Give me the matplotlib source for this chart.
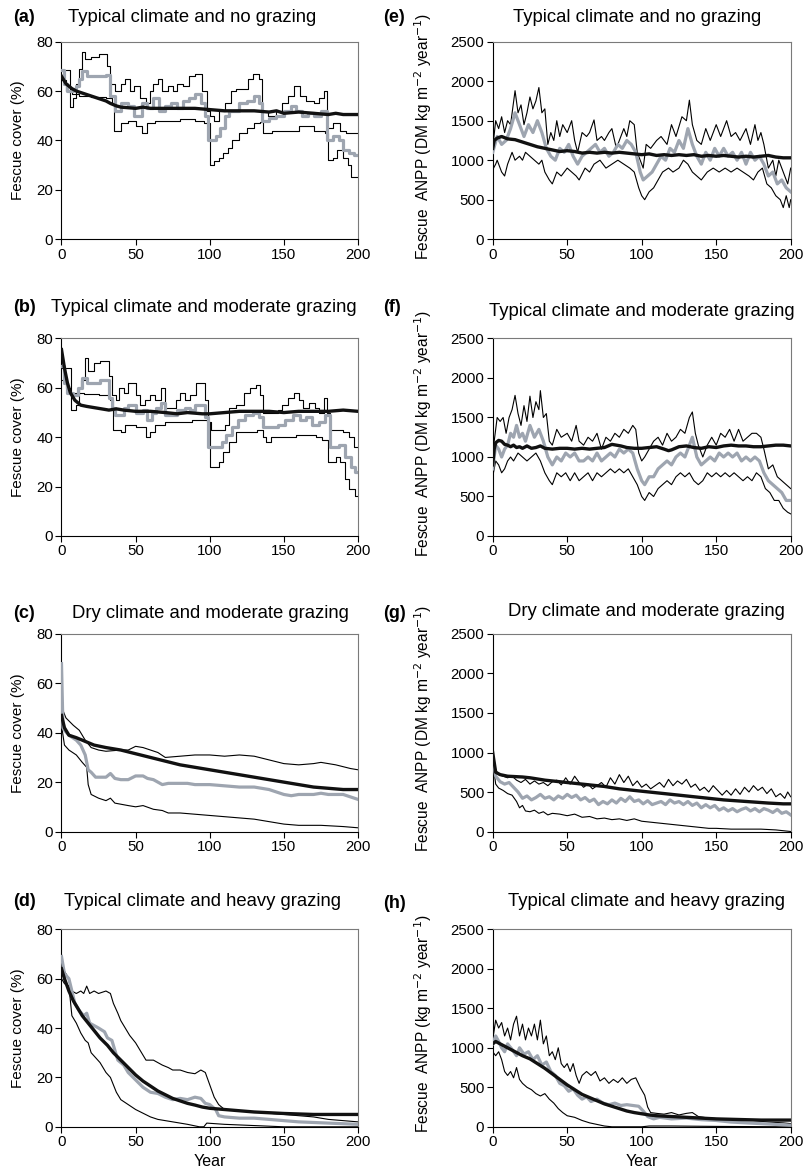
import numpy as np
import matplotlib
matplotlib.use("Agg")
import matplotlib.pyplot as plt

plt.rcParams["font.family"] = ["Liberation Sans", "DejaVu Sans"]

# --- Data: (year, value) pairs ---
# (a) Typical climate, no grazing - cover (%)
a_upper = [(0,68.5),(5.5,53.5),(8,57),(10,63),(12,69),(14,76),(16,73),(20,74),(25,75),(31,70),(33,63),(36,60),(40,63),(43,65),(46,60),(49,62),(53,57),(57,55),(60,60),(62,63),(65,65),(68,60),(72,62),(75,60),(78,63),(82,62),(86,66),(90,67),(95,60),(98,52),(100,50),(103,48),(106,52),(110,55),(114,60),(118,61),(126,65),(129,67),(133,65),(135,52),(139,50),(145,52),(149,55),(153,58),(157,62),(161,58),(165,56),(170,55),(174,57),(177,60),(179,45),(183,47),(188,44),(192,43),(200,43)]
a_lower = [(0,64.5),(3,60),(7,59),(12,58),(20,57.5),(30,57),(34,55),(35.5,44),(40,47),(45,48),(50,46),(54,43),(58,47),(63,48),(70,48),(80,48.5),(90,48),(96,47),(100,30),(103,31.5),(106,33),(109,35),(112,37),(115,40),(120,43),(125,45),(130,47),(134,47.5),(136,43),(142,44),(150,44),(160,46),(170,44),(178,43),(180,32),(183,33),(186,36),(190,33),(193,30),(195,25),(200,25)]
a_grey = [(0,68.5),(2,63),(4,60),(8,61),(10,62),(12,65),(14,68),(17,66),(30,66.5),(33,58),(36,52),(40,55),(45,54),(49,50),(54,55),(58,53),(62,57),(66,52),(70,54),(74,55),(78,53),(82,56),(86,57),(90,59),(94,55),(97,50),(99,40),(104,42),(107,45),(110,50),(113,52),(120,55),(125,56),(130,58),(133,55),(135,48),(140,49),(145,50),(150,52),(155,54),(158,52),(162,50),(166,51),(170,50),(175,52),(179,40),(183,42),(187,40),(190,36),(194,35),(197,34),(200,34)]
a_mean = [(0,66),(3,63),(7,61),(10,60),(15,59),(20,58),(25,57),(30,56),(33,55),(37,54),(40,53.5),(50,53),(55,53.5),(60,53),(70,53),(90,53),(100,52.5),(110,52),(120,52),(130,52),(140,51.5),(145,52),(150,51),(160,51.5),(170,51),(180,50.5),(185,51),(190,50.5),(200,50.5)]

# (b) Typical climate, moderate grazing - cover (%)
b_upper = [(0,68),(6.5,51),(10,53),(11.5,60),(13,63),(16,72),(18,67),(22,70),(26,71),(32,65),(34,57),(37,55),(39,60),(42,58),(45,62),(50,57),(53,53),(56,55),(60,57),(63,55),(67,60),(70,52),(77,55),(80,58),(83,55),(87,57),(91,62),(97,55),(99,46),(101,43),(110,45),(113,52),(118,53),(123,58),(127,60),(131,61),(134,57),(136,50),(146,51),(149,53),(153,56),(157,58),(160,55),(163,52),(167,54),(171,52),(174,50),(177,56),(179,50),(181,43),(190,42),(194,40),(197,36),(200,36)]
b_lower = [(0,63),(3,60),(6,58),(15,57.5),(25,57),(33,55),(35,43),(40,42),(43,45),(50,44),(57,40),(60,42),(63,45),(70,46),(88,47),(98,46),(100,28),(106,30),(109,34),(113,38),(118,42),(132,43),(136,40),(138,38),(141,40),(158,41),(172,40),(176,39),(180,30),(185,32),(188,30),(191,23),(194,19),(198,16),(200,16)]
b_grey = [(0,69),(2,62),(4,58),(8,57),(11,60),(14,64),(17,62),(26,63),(32,56),(34,52),(36,49),(42,52),(45,53),(50,50),(55,51),(58,47),(61,50),(64,52),(67,54),(70,49),(78,51),(83,52),(87,51),(90,53),(97,48),(99,36),(108,38),(111,41),(115,44),(119,47),(124,49),(129,50),(133,48),(136,44),(146,45),(151,47),(156,49),(161,47),(165,48),(169,45),(174,46),(178,49),(181,36),(187,37),(191,32),(195,28),(198,26),(200,26)]
b_mean = [(0,75.5),(2,68),(4,62),(6,58),(9,55),(13,53),(17,52.5),(22,52),(27,51.5),(32,51),(37,51.5),(42,51),(50,50.5),(60,50.5),(70,50),(78,49.5),(85,50),(95,49.5),(100,49.5),(110,50),(120,50.5),(130,50.5),(140,50.5),(150,50),(160,50.5),(170,50.5),(180,50.5),(190,51),(200,50.5)]

# (c) Dry climate, moderate grazing - cover (%)
c_upper = [(0,45),(1,49),(3,46),(8,43),(12,41),(16,37),(20,34),(25,33),(30,32.5),(40,33),(45,33),(50,34.5),(55,34),(60,33),(65,32),(70,30),(80,30.5),(90,31),(100,31),(110,30.5),(120,31),(130,30.5),(140,29),(150,27.5),(160,27),(170,27.5),(175,28),(185,27),(195,25.5),(200,25)]
c_lower = [(0,43),(2,35),(5,33),(10,31),(14,28),(17,26),(18,19),(20,15),(25,13.5),(30,12.5),(33,13.5),(36,11.5),(45,10.5),(50,10),(55,10.5),(62,9),(68,8.5),(72,7.5),(80,7.5),(90,7),(100,6.5),(110,6),(120,5.5),(130,5),(140,4),(150,3),(160,2.5),(175,2.5),(190,2),(200,1.5)]
c_grey = [(0,68),(1,42),(2,41),(5,39),(10,37),(13,35),(16,31),(18,25),(20,24),(23,22),(27,22),(30,22),(33,23.5),(36,21.5),(40,21),(45,21),(50,22.5),(55,22.5),(58,21.5),(62,21),(68,19),(72,19.5),(85,19.5),(90,19),(100,19),(110,18.5),(120,18),(130,18),(140,17),(150,15),(155,14.5),(160,15),(170,15),(175,15.5),(180,15),(190,15),(195,14),(200,13)]
c_mean = [(0,47),(2,42),(5,39),(10,38),(18,36),(22,35),(30,34),(40,33),(50,31.5),(60,30),(70,28.5),(80,27),(95,25.5),(100,25),(110,24),(120,23),(130,22),(140,21),(150,20),(160,19),(170,18),(180,17.5),(190,17),(200,17)]

# (d) Typical climate, heavy grazing - cover (%)
d_upper = [(0,64),(2,63),(4,61),(7,55),(10,54),(13,55),(15,54),(17,57),(19,54),(22,55),(25,54),(30,55),(33,54),(35,50),(38,46),(40,43),(43,40),(46,37),(50,34),(53,31),(57,27),(62,27),(65,26),(68,25),(72,24),(75,23),(80,23),(85,22),(90,21.5),(94,23),(97,22),(100,17),(103,12),(106,9),(110,7),(120,6.5),(130,6),(140,5.5),(150,5),(160,4.5),(170,4),(180,3),(190,2.5),(200,2)]
d_lower = [(0,60),(2,58),(5,57),(7,45),(10,42),(13,38),(16,35),(18,34),(20,30),(23,28),(26,26),(30,22),(33,20),(35,17),(37,14),(40,11),(45,9),(50,7),(55,5.5),(60,4),(65,3),(70,2.5),(75,2),(85,1),(93,0),(96,0),(98,1.5),(110,1),(130,0.5),(150,0),(200,0)]
d_grey = [(0,69),(2,62),(5,60),(7,55),(9,50),(12,47),(15,45),(17,46),(19,42),(22,41),(25,40),(29,38.5),(31,36),(34,35),(36,31),(38,27),(42,25),(45,22),(50,19),(55,16),(60,14),(65,13.5),(70,12),(75,11),(80,11.5),(85,11),(90,12),(94,11.5),(97,9.5),(100,9),(104,7),(106,4.5),(110,4),(120,3.5),(130,3.5),(140,3),(150,2.5),(160,2),(180,1.5),(200,1)]
d_mean = [(0,64),(2,60),(5,55),(8,51),(11,48),(14,45),(18,42),(22,39),(26,36),(31,33),(35,30),(40,27),(45,24),(50,21),(55,18.5),(60,16.5),(65,14.5),(70,13),(75,11.5),(80,10.5),(85,9.5),(90,8.8),(95,8),(100,7.5),(110,7),(120,6.5),(130,6),(140,5.7),(150,5.4),(160,5.2),(170,5),(180,5),(200,5)]

# (e) Typical climate, no grazing - ANPP
e_upper = [(0,1150),(2,1500),(4,1400),(6,1550),(8,1350),(10,1500),(12,1450),(15,1880),(17,1600),(19,1700),(21,1450),(23,1600),(25,1800),(27,1650),(29,1750),(31,1920),(33,1600),(35,1650),(37,1200),(39,1350),(41,1250),(43,1500),(45,1300),(47,1450),(50,1350),(53,1500),(55,1250),(57,1100),(60,1350),(63,1300),(65,1350),(68,1510),(70,1250),(73,1300),(75,1250),(78,1350),(80,1400),(83,1150),(86,1300),(88,1400),(90,1300),(92,1500),(95,1450),(97,1100),(99,1000),(101,900),(103,1200),(106,1150),(110,1250),(113,1300),(117,1200),(120,1450),(123,1300),(127,1550),(130,1500),(132,1760),(134,1450),(137,1250),(140,1200),(143,1400),(146,1250),(150,1450),(153,1300),(157,1500),(160,1300),(163,1350),(166,1250),(170,1400),(173,1200),(176,1450),(178,1250),(180,1350),(182,1200),(185,900),(188,1000),(190,800),(192,1000),(195,850),(198,700),(200,900)]
e_lower = [(0,880),(2,950),(3,1000),(6,850),(8,800),(10,950),(13,1100),(15,1000),(18,1050),(20,1000),(22,1100),(25,1050),(28,1000),(31,950),(33,1000),(35,850),(38,750),(40,700),(43,850),(46,800),(50,900),(53,850),(56,800),(58,750),(62,900),(65,850),(68,950),(72,1000),(76,900),(80,950),(84,1000),(88,950),(92,900),(95,850),(98,650),(100,550),(102,500),(105,600),(108,650),(111,750),(114,850),(118,900),(121,850),(125,900),(128,1000),(131,950),(134,850),(137,800),(140,750),(144,850),(148,900),(152,850),(156,900),(160,850),(164,900),(168,850),(172,800),(175,750),(178,850),(181,900),(184,700),(187,650),(190,550),(193,500),(195,400),(197,550),(199,400),(200,500)]
e_grey = [(0,1100),(3,1300),(6,1200),(9,1250),(12,1400),(15,1600),(18,1450),(21,1300),(24,1450),(27,1350),(30,1500),(33,1350),(36,1150),(39,1050),(42,1000),(45,1150),(48,1100),(51,1200),(54,1050),(57,950),(60,1050),(63,1100),(66,1150),(69,1200),(72,1100),(75,1150),(78,1050),(81,1100),(84,1200),(87,1150),(90,1250),(93,1200),(96,1100),(99,850),(101,750),(104,800),(107,850),(110,950),(113,1050),(116,1000),(119,1150),(122,1100),(125,1250),(128,1150),(131,1400),(134,1200),(137,1050),(140,950),(143,1100),(146,1000),(149,1150),(152,1050),(155,1150),(158,1050),(161,1100),(164,1000),(167,1100),(170,950),(173,1100),(176,1000),(179,1050),(182,950),(185,800),(188,850),(191,700),(194,750),(197,650),(200,600)]
e_mean = [(0,1150),(1,1250),(3,1280),(6,1300),(10,1270),(15,1260),(20,1230),(25,1200),(30,1170),(35,1150),(40,1130),(45,1110),(50,1120),(55,1110),(60,1090),(65,1100),(70,1090),(75,1100),(80,1090),(85,1100),(90,1090),(95,1080),(100,1070),(105,1080),(110,1060),(115,1070),(120,1060),(125,1070),(130,1060),(135,1070),(140,1050),(145,1060),(150,1050),(155,1060),(160,1050),(165,1040),(170,1050),(175,1040),(180,1050),(185,1060),(190,1040),(195,1030),(200,1030)]

# (f) Typical climate, moderate grazing - ANPP
f_upper = [(0,950),(1,1200),(3,1500),(5,1450),(7,1500),(9,1300),(11,1500),(13,1600),(15,1780),(17,1550),(19,1400),(21,1650),(23,1450),(25,1770),(27,1500),(29,1700),(31,1600),(32,1840),(34,1500),(36,1550),(38,1200),(40,1150),(43,1350),(46,1250),(50,1300),(53,1200),(56,1400),(58,1200),(61,1150),(64,1250),(67,1200),(70,1300),(73,1100),(76,1250),(79,1200),(82,1300),(85,1250),(88,1350),(91,1300),(94,1400),(96,1350),(98,1050),(100,950),(102,1000),(105,1100),(108,1200),(111,1250),(114,1150),(117,1300),(120,1200),(123,1250),(126,1350),(129,1300),(132,1500),(134,1570),(136,1300),(138,1150),(141,1000),(144,1150),(147,1250),(150,1150),(153,1300),(156,1250),(159,1350),(162,1200),(165,1350),(168,1200),(171,1250),(174,1300),(177,1300),(180,1250),(182,1100),(185,850),(188,900),(191,750),(194,700),(197,650),(200,600)]
f_lower = [(0,750),(2,950),(4,900),(6,800),(8,850),(10,950),(12,1000),(14,950),(17,1050),(20,1000),(23,950),(26,1000),(29,1050),(32,950),(35,800),(38,700),(40,650),(43,800),(46,750),(49,800),(52,700),(55,800),(58,700),(61,750),(64,800),(67,700),(70,800),(73,750),(76,800),(79,850),(82,800),(85,850),(88,800),(91,850),(94,750),(97,650),(100,500),(102,450),(105,550),(108,500),(111,600),(114,650),(117,700),(120,650),(123,750),(126,800),(129,750),(132,800),(135,700),(138,650),(141,700),(144,800),(147,750),(150,800),(153,750),(156,800),(159,750),(162,800),(165,750),(168,700),(171,750),(174,700),(177,800),(180,750),(183,600),(186,550),(189,450),(192,450),(195,350),(198,300),(200,280)]
f_grey = [(0,850),(2,1150),(4,1100),(6,1000),(8,1100),(10,1150),(12,1300),(14,1250),(16,1400),(18,1250),(20,1300),(22,1200),(25,1400),(28,1250),(31,1350),(34,1200),(37,1000),(40,900),(43,1000),(46,950),(49,1050),(52,1000),(55,1050),(58,950),(61,950),(64,1000),(67,950),(70,1050),(73,950),(76,1000),(79,1050),(82,1000),(85,1100),(88,1050),(91,1100),(94,1050),(97,850),(100,700),(102,650),(105,750),(108,750),(111,850),(114,900),(117,950),(120,900),(123,1000),(126,1050),(129,1000),(132,1150),(134,1250),(137,1000),(140,900),(143,950),(146,1000),(149,950),(152,1050),(155,1000),(158,1050),(161,1000),(164,1050),(167,950),(170,1000),(173,950),(176,1000),(179,950),(182,800),(185,700),(188,650),(191,600),(194,550),(197,450),(200,450)]
f_mean = [(0,900),(1,1100),(2,1180),(4,1210),(6,1200),(8,1160),(10,1150),(12,1130),(14,1150),(16,1120),(18,1130),(20,1110),(23,1140),(26,1110),(29,1120),(32,1140),(35,1110),(40,1100),(45,1110),(50,1110),(55,1100),(60,1110),(65,1100),(70,1110),(75,1120),(80,1160),(83,1150),(86,1140),(90,1120),(95,1110),(100,1110),(105,1120),(110,1130),(115,1100),(118,1080),(120,1090),(125,1130),(130,1140),(135,1120),(140,1110),(145,1130),(150,1120),(155,1140),(160,1150),(165,1140),(170,1140),(175,1130),(180,1130),(185,1140),(190,1150),(195,1150),(200,1140)]

# (g) Dry climate, moderate grazing - ANPP
g_upper = [(0,950),(2,780),(4,720),(7,700),(10,680),(13,700),(16,650),(19,620),(22,660),(25,600),(28,640),(31,600),(34,620),(37,580),(40,630),(43,650),(46,590),(49,680),(52,600),(55,700),(58,620),(61,560),(64,600),(67,540),(70,580),(73,620),(76,560),(79,680),(82,600),(85,720),(88,620),(91,700),(94,580),(97,640),(100,560),(103,600),(106,540),(109,580),(112,620),(115,560),(118,660),(121,580),(124,640),(127,600),(130,660),(133,560),(136,600),(139,520),(142,560),(145,500),(148,580),(151,520),(154,460),(157,520),(160,460),(163,540),(166,470),(169,560),(172,500),(175,580),(178,520),(181,560),(184,480),(187,540),(190,440),(193,480),(196,420),(198,500),(200,440)]
g_lower = [(0,900),(2,600),(4,550),(7,520),(10,480),(13,460),(16,380),(18,300),(20,330),(22,260),(25,250),(28,270),(31,230),(34,250),(37,210),(40,230),(45,220),(50,200),(55,220),(60,180),(65,190),(70,160),(75,170),(80,150),(85,160),(90,140),(95,160),(100,130),(105,120),(110,110),(115,100),(120,90),(125,80),(130,70),(135,60),(140,50),(145,40),(150,40),(160,30),(170,30),(180,30),(190,20),(195,10),(200,0)]
g_grey = [(0,950),(2,700),(5,630),(8,600),(11,620),(14,560),(17,500),(20,420),(23,450),(26,400),(29,430),(32,470),(35,420),(38,440),(41,400),(44,450),(47,420),(50,470),(53,430),(56,460),(59,400),(62,430),(65,380),(68,410),(71,340),(74,380),(77,350),(80,400),(83,360),(86,420),(89,380),(92,440),(95,380),(98,400),(101,350),(104,390),(107,340),(110,360),(113,380),(116,340),(119,400),(122,360),(125,380),(128,340),(131,380),(134,330),(137,360),(140,300),(143,340),(146,300),(149,330),(152,270),(155,300),(158,260),(161,290),(164,250),(167,280),(170,300),(173,260),(176,290),(179,250),(182,290),(185,270),(188,240),(191,280),(194,230),(197,250),(200,210)]
g_mean = [(0,1000),(2,750),(5,720),(10,700),(20,690),(25,680),(35,650),(45,630),(55,610),(65,590),(75,570),(85,540),(95,520),(105,500),(115,480),(125,460),(135,440),(145,420),(155,400),(170,380),(185,360),(195,350),(200,350)]

# (h) Typical climate, heavy grazing - ANPP
h_upper = [(0,1100),(2,1350),(4,1250),(6,1320),(8,1150),(10,1250),(12,1100),(14,1300),(16,1400),(18,1150),(20,1300),(22,1100),(24,1250),(26,1150),(28,1300),(30,1100),(32,1350),(34,1050),(36,1150),(38,900),(40,950),(42,850),(44,1000),(46,800),(48,750),(50,800),(52,700),(54,800),(56,650),(58,550),(60,650),(63,700),(66,650),(69,700),(72,580),(75,620),(78,550),(81,600),(84,560),(87,620),(90,550),(93,600),(96,620),(99,500),(102,400),(104,250),(106,180),(110,170),(115,160),(120,180),(125,150),(130,170),(134,180),(138,130),(145,110),(155,100),(165,90),(175,80),(185,60),(195,50),(200,40)]
h_lower = [(0,950),(2,900),(4,950),(6,850),(8,700),(10,650),(12,700),(14,620),(16,750),(18,600),(20,550),(23,500),(26,470),(29,420),(32,390),(35,420),(38,350),(41,300),(44,230),(47,180),(50,140),(55,120),(60,80),(65,50),(70,30),(75,10),(80,0),(100,0),(105,10),(120,10),(150,5),(200,0)]
h_grey = [(0,1050),(2,1150),(4,1080),(6,1000),(8,950),(10,1050),(13,980),(16,900),(18,1000),(21,920),(24,950),(27,850),(30,900),(33,780),(36,820),(39,700),(42,650),(45,550),(48,520),(51,450),(54,480),(57,400),(60,350),(63,380),(66,320),(70,350),(74,300),(78,280),(82,300),(86,270),(90,280),(94,270),(98,260),(101,200),(104,130),(108,100),(112,120),(120,100),(130,110),(140,90),(150,80),(160,60),(170,50),(180,40),(190,30),(200,20)]
h_mean = [(0,1050),(2,1080),(5,1050),(10,1000),(15,950),(20,900),(25,860),(30,800),(35,740),(40,670),(45,600),(50,530),(55,470),(60,410),(65,370),(70,330),(75,290),(80,260),(85,230),(90,200),(95,180),(100,165),(105,150),(110,140),(120,130),(130,120),(140,110),(150,100),(160,95),(170,90),(180,85),(200,85)]

cover_ticks = [0, 20, 40, 60, 80]
anpp_ticks = [0, 500, 1000, 1500, 2000, 2500]
year_ticks = [0, 50, 100, 150, 200]

titles = ["Typical climate and no grazing", "Typical climate and moderate grazing",
          "Dry climate and moderate grazing", "Typical climate and heavy grazing"]

GREY = "#9ea5b0"
W, H = 812, 1172


def unzip(pairs):
    return [p[0] for p in pairs], [p[1] for p in pairs]


def draw(ax, upper, lower, grey, mean, step=False):
    ds = "steps-post" if step else "default"
    for s in (upper, lower):
        x, y = unzip(s)
        ax.plot(x, y, color="black", lw=0.8, drawstyle=ds, zorder=2)
    x, y = unzip(grey)
    ax.plot(x, y, color=GREY, lw=2.3, drawstyle=ds, zorder=3)
    x, y = unzip(mean)
    ax.plot(x, y, color="#111111", lw=2.4, zorder=4)


def style(ax, ymax, yticks):
    ax.set_xlim(0, 200)
    ax.set_ylim(0, ymax)
    ax.set_xticks(year_ticks)
    ax.set_yticks(yticks)
    ax.tick_params(direction="out", length=4, width=0.8, labelsize=10.8, pad=2)
    for s in ("top", "right"):
        ax.spines[s].set_color("#7a7a7a")
        ax.spines[s].set_linewidth(0.8)
    for s in ("left", "bottom"):
        ax.spines[s].set_linewidth(0.8)


fig = plt.figure(figsize=(W / 100, H / 100), dpi=100)

tops = [41.7, 338.5, 634.0, 929.3]
ah = 197.5
left_l, left_w = 61.5, 296.5
right_l, right_w = 492.7, 298.0

left_data = [(a_upper, a_lower, a_grey, a_mean, True),
             (b_upper, b_lower, b_grey, b_mean, True),
             (c_upper, c_lower, c_grey, c_mean, False),
             (d_upper, d_lower, d_grey, d_mean, False)]
right_data = [(e_upper, e_lower, e_grey, e_mean),
              (f_upper, f_lower, f_grey, f_mean),
              (g_upper, g_lower, g_grey, g_mean),
              (h_upper, h_lower, h_grey, h_mean)]

left_letters = ["(a)", "(b)", "(c)", "(d)"]
right_letters = ["(e)", "(f)", "(g)", "(h)"]
left_title_x = [192, 204, 210, 203]
left_title_y = [17, 307, 613, 901]
right_title_x = [637, 642, 646, 647]
right_title_y = [17, 311, 612, 902]
right_letter_y = [17, 307, 613, 903]


def fx(px):
    return px / W


def fy(py):
    return 1 - py / H


for i in range(4):
    axl = fig.add_axes([fx(left_l), fy(tops[i] + ah), left_w / W, ah / H])
    u, l, g, m, st = left_data[i]
    draw(axl, u, l, g, m, step=st)
    style(axl, 80, cover_ticks)
    axl.set_ylabel("Fescue cover (%)", fontsize=11)
    axl.yaxis.set_label_coords((25 - left_l) / left_w, 0.5)

    axr = fig.add_axes([fx(right_l), fy(tops[i] + ah), right_w / W, ah / H])
    u, l, g, m = right_data[i]
    draw(axr, u, l, g, m)
    style(axr, 2500, anpp_ticks)
    if i < 3:
        lab = "Fescue  ANPP (DM kg m$^{-2}$ year$^{-1}$)"
    else:
        lab = "Fescue  ANPP (kg m$^{-2}$ year$^{-1}$)"
    axr.set_ylabel(lab, fontsize=11.2)
    axr.yaxis.set_label_coords((434 - right_l) / right_w, 0.52)

    fig.text(fx(13), fy(left_title_y[i]), left_letters[i], fontsize=13,
             fontweight="bold", ha="left", va="center")
    fig.text(fx(left_title_x[i]), fy(left_title_y[i]), titles[i], fontsize=13.3,
             ha="center", va="center")
    fig.text(fx(383), fy(right_letter_y[i]), right_letters[i], fontsize=13,
             fontweight="bold", ha="left", va="center")
    fig.text(fx(right_title_x[i]), fy(right_title_y[i]), titles[i], fontsize=13.3,
             ha="center", va="center")

    if i == 3:
        for ax in (axl, axr):
            ax.set_xlabel("Year", fontsize=11.5, va="center")
            ax.xaxis.set_label_coords(0.5, -(1161 - 1126.8) / ah)

fig.savefig("out.png", dpi=100)
